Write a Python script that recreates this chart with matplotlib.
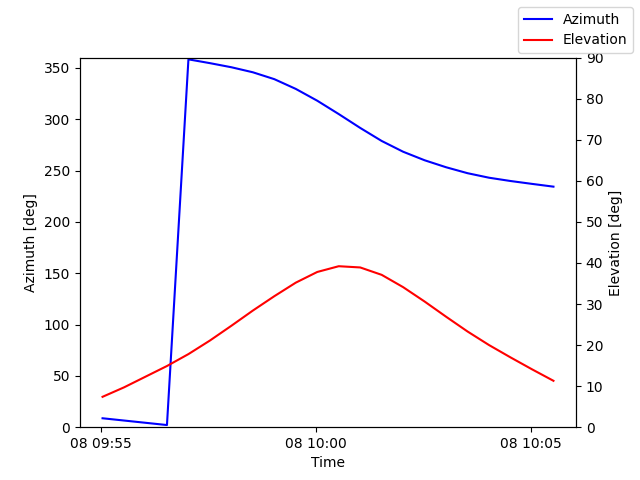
import numpy as np
import pandas as pd
import matplotlib
matplotlib.use("Agg")
import matplotlib.pyplot as plt
import matplotlib.dates as mdates

times = pd.date_range("2024-01-08 09:55:02", periods=22, freq="30s")
azimuth = [8.7, 6.5, 4.3, 2.1, 358.3, 354.6, 350.6, 345.7, 339.0, 329.5,
           318.0, 305.0, 291.5, 278.8, 268.3, 260.0, 253.2, 247.4, 243.0,
           239.8, 237.0, 234.3]
elevation = [7.4, 9.7, 12.3, 14.9, 17.8, 21.1, 24.7, 28.4, 31.9, 35.2,
             37.8, 39.2, 38.9, 37.1, 34.1, 30.6, 26.9, 23.3, 20.0, 17.0,
             14.1, 11.3]

fig, ax = plt.subplots(figsize=(6.4, 4.8), dpi=100)
l1, = ax.plot(times, azimuth, color="blue", label="Azimuth")
ax.set_ylim(0, 360)
ax.set_ylabel("Azimuth [deg]")
ax.set_xlabel("Time")
ax.xaxis.set_major_locator(mdates.MinuteLocator(byminute=[0, 5, 10, 15, 20, 25, 30, 35, 40, 45, 50, 55]))
ax.xaxis.set_major_formatter(mdates.DateFormatter("%d %H:%M"))

ax2 = ax.twinx()
l2, = ax2.plot(times, elevation, color="red", label="Elevation")
ax2.set_ylim(0, 90)
ax2.set_ylabel("Elevation [deg]")

fig.legend(handles=[l1, l2], loc="upper right")
fig.savefig("out.png", dpi=100)
